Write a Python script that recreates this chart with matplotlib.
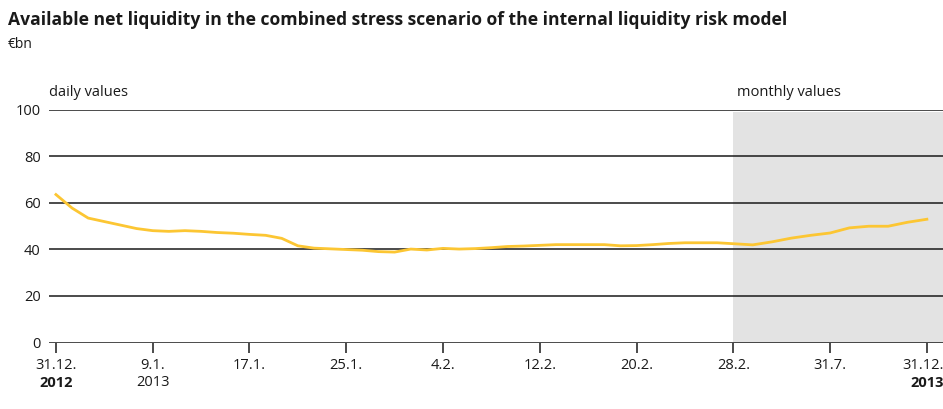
import matplotlib
matplotlib.use("Agg")
import matplotlib.pyplot as plt
import matplotlib.transforms as mtransforms
import numpy as np

plt.rcParams['font.family'] = ['Open Sans', 'DejaVu Sans']

# ---- data ----
title = "Available net liquidity in the combined stress scenario of the internal liquidity risk model"
unit = "€bn"

# daily values (business days 31.12.2012 .. 28.2.2013), € bn
daily_values = [63.5, 57.7, 53.4, 51.9, 50.4, 48.9, 48.0, 47.7, 48.0, 47.7,
                47.2, 46.9, 46.4, 46.0, 44.7, 41.5, 40.5, 40.2, 39.9, 39.6,
                39.0, 38.8, 40.1, 39.7, 40.4, 40.1, 40.3, 40.7, 41.2, 41.4,
                41.7, 42.0, 42.0, 42.0, 42.0, 41.5, 41.6, 42.0, 42.5, 42.8,
                42.8, 42.8, 42.4]
# monthly values (end of month March .. December 2013), € bn
monthly_values = [41.9, 43.2, 44.8, 46.0, 47.0, 49.2, 49.9, 49.9, 51.6, 52.9]

tick_labels = ["31.12.", "9.1.", "17.1.", "25.1.", "4.2.", "12.2.", "20.2.",
               "28.2.", "31.7.", "31.12."]
year_labels = ["2012", "2013", "", "", "", "", "", "", "", "2013"]
year_bold = [True, False, False, False, False, False, False, False, False, True]
yticks = [0, 20, 40, 60, 80, 100]

# ---- axis scale: 6 business days per tick in daily part, 5 months per tick in monthly part ----
days_per_tick = 6
months_per_tick = 5
n_daily = len(daily_values)
x_daily = np.arange(n_daily)
x_monthly = (n_daily - 1) + np.arange(1, len(monthly_values) + 1) * days_per_tick / months_per_tick
x_all = np.concatenate([x_daily, x_monthly])
y_all = np.concatenate([daily_values, monthly_values])
tick_pos = [i * days_per_tick for i in range(len(tick_labels))]
split = (n_daily - 1)

# ---- figure ----
W, H = 943, 409
fig = plt.figure(figsize=(W / 100, H / 100), dpi=100)
ax = fig.add_axes([49 / W, (H - 342.5) / H, 1 - 49 / W, (342.5 - 109.5) / H])

ax.set_xlim(-0.43, 55.0)
ax.set_ylim(0, 100)

ax.axvspan(split, 100, ymin=0, ymax=0.99, color="#e3e3e3", lw=0, zorder=0)

for v in yticks:
    ax.axhline(v, color="#1a1a1a", lw=1.1, zorder=1)

ax.plot(x_all, y_all, color="#fcc633", lw=2.0, solid_joinstyle="round", zorder=3)

for s in ax.spines.values():
    s.set_visible(False)

ax.set_yticks(yticks)
ax.set_yticklabels([str(v) for v in yticks], fontsize=10.5, color="#1a1a1a")
ax.tick_params(axis="y", length=0, pad=6)

ax.set_xticks(tick_pos)
ax.set_xticklabels(tick_labels, fontsize=10.5, color="#1a1a1a")
ax.tick_params(axis="x", length=7, width=1.1, color="#1a1a1a", pad=4)

# keep the last date label inside the figure (right-aligned at the edge)
shift = mtransforms.ScaledTranslation(17 / 100, 0, fig.dpi_scale_trans)
last_lbl = ax.get_xticklabels()[-1]
last_lbl.set_horizontalalignment("right")
last_lbl.set_transform(last_lbl.get_transform() + shift)

trans = mtransforms.blended_transform_factory(ax.transData, ax.transAxes)
for i, (p, yl, b) in enumerate(zip(tick_pos, year_labels, year_bold)):
    if yl:
        last = i == len(tick_pos) - 1
        t = ax.text(p, -0.172, yl, transform=trans + shift if last else trans,
                    ha="right" if last else "center", va="center",
                    fontsize=10.5, fontweight="bold" if b else "normal", color="#1a1a1a",
                    clip_on=False)

ax.text(0.0, 1.04, "daily values", transform=ax.transAxes, fontsize=10.5,
        ha="left", va="bottom", color="#1a1a1a")
ax.text(split + 0.2, 1.04, "monthly values", transform=trans, fontsize=10.5,
        ha="left", va="bottom", color="#1a1a1a")

fig.text(8 / W, 1 - 20 / H, title, fontsize=12.6, fontweight="bold",
         ha="left", va="center", color="#1a1a1a")
fig.text(8 / W, 1 - 45 / H, unit, fontsize=10, ha="left", va="center", color="#1a1a1a")

fig.savefig("out.png", dpi=100)
